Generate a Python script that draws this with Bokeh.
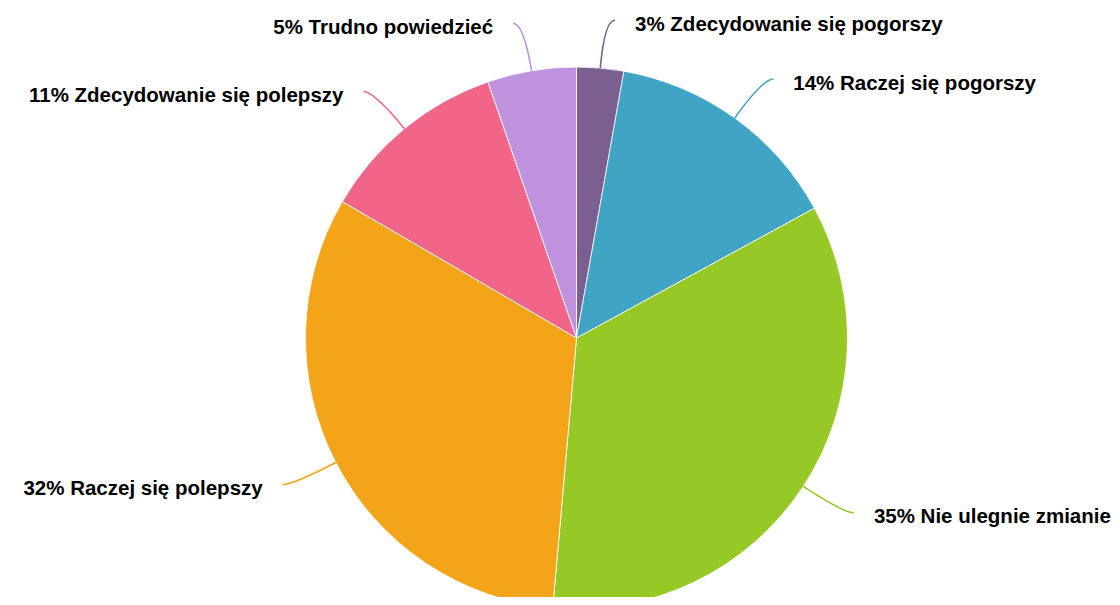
import math
from bokeh.plotting import figure
from bokeh.models import Range1d, ColumnDataSource
from bokeh.embed import file_html
from bokeh.resources import INLINE
from bokeh.core.properties import value

# ---- data ----
labels = [
    "3% Zdecydowanie się pogorszy",
    "14% Raczej się pogorszy",
    "35% Nie ulegnie zmianie",
    "32% Raczej się polepszy",
    "11% Zdecydowanie się polepszy",
    "5% Trudno powiedzieć",
]
values = [2.8, 14.25, 34.35, 32.0, 11.3, 5.3]
colors = ["#7b5f91", "#40a4c4", "#97c926", "#f4a419", "#f06588", "#be92dc"]

# ---- layout ----
W, H = 1112, 597
TOP = 605  # data y = TOP - screen_y
CX, CY = 576.0, TOP - 337.5
R = 271.0
RL = 319.0      # label ring radius
HOOK = 10.5     # horizontal connector end
PAD = 20.0      # gap between connector end and text

total = sum(values)
starts, ends, mids = [], [], []
acc = 0.0
for v in values:
    a0 = acc / total * 2 * math.pi
    acc += v
    a1 = acc / total * 2 * math.pi
    starts.append(a0)
    ends.append(a1)
    mids.append((a0 + a1) / 2)

src = ColumnDataSource(dict(
    start=[math.pi / 2 - e for e in ends],
    end=[math.pi / 2 - s for s in starts],
    color=colors,
))

p = figure(width=W, height=H, output_backend="svg", toolbar_location=None,
           x_range=Range1d(0, W), y_range=Range1d(TOP - H, TOP),
           min_border=0)
p.axis.visible = False
p.grid.visible = False
p.outline_line_color = None
p.background_fill_color = "white"
p.border_fill_color = "white"

p.wedge(x=CX, y=CY, radius=R, start_angle="start", end_angle="end",
        direction="anticlock", fill_color="color", line_color="white",
        line_width=0.8, source=src)

for lab, th, col in zip(labels, mids, colors):
    sx, sy = math.sin(th), math.cos(th)
    right = sx >= 0
    x0, y0 = CX + R * sx, CY + R * sy
    bx, by = CX + RL * sx, CY + RL * sy
    ex = bx + (HOOK if right else -HOOK)
    ey = by
    p.quadratic(x0=[x0], y0=[y0], x1=[ex], y1=[ey], cx=[bx], cy=[by],
                line_color=col, line_width=1.6)
    tx = ex + (PAD if right else -PAD)
    p.text(x=[tx], y=[ey - 3], text=[lab],
           text_font=value("Liberation Sans"), text_font_size="20.5px",
           text_font_style="bold", text_color="#000000",
           text_align="left" if right else "right",
           text_baseline="alphabetic")

open("out.html", "w").write(file_html(p, INLINE))
